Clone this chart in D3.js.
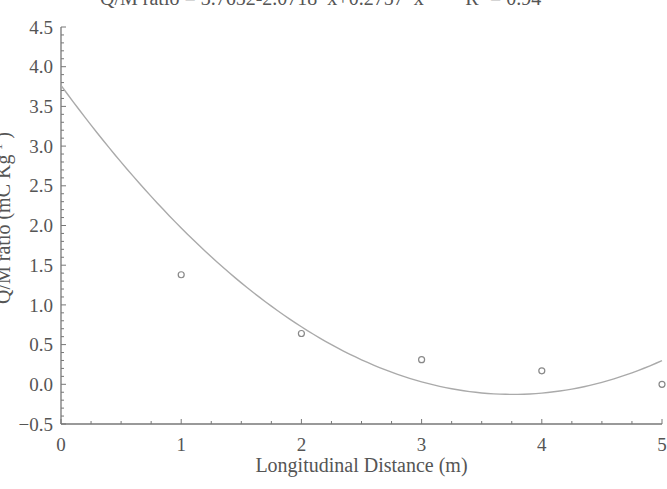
<!DOCTYPE html>
<html>
<head>
<meta charset="utf-8">
<script src="https://cdn.jsdelivr.net/npm/d3@7"></script>
<style>
  body { margin: 0; background: #fff; }
  svg { display: block; font-family: "Liberation Serif", "DejaVu Serif", serif; }
  .tickLabel { fill: #555; font-size: 19px; }
  .axisLabel { fill: #555; font-size: 20px; }
</style>
</head>
<body>
<div id="chart"></div>
<script>
// Measured points (distance in m, Q/M ratio in mC/kg)
const distances = [1, 2, 3, 4, 5];
const ratios = [1.38, 0.64, 0.31, 0.17, 0.0];

// Quadratic fit from the title: c0 + c1*x + c2*x^2
const fitCoefs = [3.7652, -2.0718, 0.2757];
const rSquared = 0.94;

const xTicks = [0, 1, 2, 3, 4, 5];
const yTicks = [-0.5, 0.0, 0.5, 1.0, 1.5, 2.0, 2.5, 3.0, 3.5, 4.0, 4.5];

const width = 667, height = 489;
const margin = { top: 27, left: 61, right: 5, bottom: 65 };

const svg = d3.select('#chart')
    .append('svg')
    .attr('width', width)
    .attr('height', height);

const xScale = d3.scaleLinear()
    .domain([0, 5])
    .range([margin.left, width - margin.right]);

const yScale = d3.scaleLinear()
    .domain([-0.5, 4.5])
    .range([height - margin.bottom, margin.top]);

const axisColor = '#777';

// Y axis: minor ticks every 0.1, major every 0.5, ticks point inward
const yAxisG = svg.append('g')
    .attr('transform', 'translate(' + margin.left + ',0)');

yAxisG.append('line')
    .attr('x1', 0).attr('x2', 0)
    .attr('y1', yScale(4.5)).attr('y2', yScale(-0.5))
    .attr('stroke', axisColor).attr('stroke-width', 1.3);

yAxisG.selectAll('.minorY')
    .data(d3.range(-5, 46).map(i => i / 10))
    .enter().append('line')
    .attr('x1', 0)
    .attr('x2', d => (Math.round(d * 10) % 5 === 0) ? 5 : 3)
    .attr('y1', d => yScale(d)).attr('y2', d => yScale(d))
    .attr('stroke', axisColor).attr('stroke-width', 1);

yAxisG.selectAll('.yLabel')
    .data(yTicks)
    .enter().append('text')
    .attr('class', 'tickLabel')
    .attr('x', -8)
    .attr('y', d => yScale(d))
    .attr('dy', '0.35em')
    .attr('text-anchor', 'end')
    .text(d => d3.format('.1f')(d));

// X axis: minor ticks every 0.25, labels on integers
const xAxisG = svg.append('g')
    .attr('transform', 'translate(0,' + yScale(-0.5) + ')');

xAxisG.append('line')
    .attr('x1', xScale(0)).attr('x2', xScale(5))
    .attr('y1', 0).attr('y2', 0)
    .attr('stroke', axisColor).attr('stroke-width', 1.3);

xAxisG.selectAll('.minorX')
    .data(d3.range(0, 21).map(i => i / 4))
    .enter().append('line')
    .attr('x1', d => xScale(d)).attr('x2', d => xScale(d))
    .attr('y1', 0)
    .attr('y2', d => Number.isInteger(d) ? -5 : -3)
    .attr('stroke', axisColor).attr('stroke-width', 1);

xAxisG.selectAll('.xLabel')
    .data(xTicks)
    .enter().append('text')
    .attr('class', 'tickLabel')
    .attr('x', d => xScale(d))
    .attr('y', 27)
    .attr('text-anchor', 'middle')
    .text(d => d);

// Axis titles
svg.append('text')
    .attr('class', 'axisLabel')
    .attr('x', (xScale(0) + xScale(5)) / 2)
    .attr('y', 472)
    .attr('text-anchor', 'middle')
    .text('Longitudinal Distance (m)');

// Y title runs off the left edge, as in the reference
const yTitle = svg.append('text')
    .attr('class', 'axisLabel')
    .attr('font-size', '21px')
    .attr('transform', 'translate(10,' + 218 + ') rotate(-90)')
    .attr('text-anchor', 'middle');
yTitle.append('tspan').text('Q/M ratio (mC Kg');
yTitle.append('tspan').attr('dy', -8).attr('font-size', '13px').text('-1');
yTitle.append('tspan').attr('dy', 8).text(' )');

// Title, cut at the top of the picture
const title = svg.append('text')
    .attr('class', 'axisLabel')
    .attr('x', 100)
    .attr('y', 5)
    .attr('text-anchor', 'start');
title.append('tspan').text('Q/M ratio = ' + fitCoefs[0] + '-' + Math.abs(fitCoefs[1]) + '*x+' + fitCoefs[2] + '*x');
title.append('tspan').attr('dy', -8).attr('font-size', '13px').text('2');
title.append('tspan').attr('dy', 8).attr('xml:space', 'preserve').text('       R');
title.append('tspan').attr('dy', -8).attr('font-size', '13px').text('2');
title.append('tspan').attr('dy', 8).text(' = ' + rSquared);

// Fitted curve
const fit = x => fitCoefs[0] + fitCoefs[1] * x + fitCoefs[2] * x * x;
const curveXs = d3.range(0, 5.0001, 0.05);

svg.append('path')
    .datum(curveXs)
    .attr('fill', 'none')
    .attr('stroke', '#aaa')
    .attr('stroke-width', 1.4)
    .attr('d', d3.line()
        .x(d => xScale(d))
        .y(d => yScale(fit(d)))
    );

// Data points
svg.append('g')
    .selectAll('circle')
    .data(distances.map((d, i) => [d, ratios[i]]))
    .enter().append('circle')
    .attr('cx', d => xScale(d[0]))
    .attr('cy', d => yScale(d[1]))
    .attr('r', 3)
    .attr('fill', 'none')
    .attr('stroke', '#888')
    .attr('stroke-width', 1.2);
</script>
</body>
</html>
